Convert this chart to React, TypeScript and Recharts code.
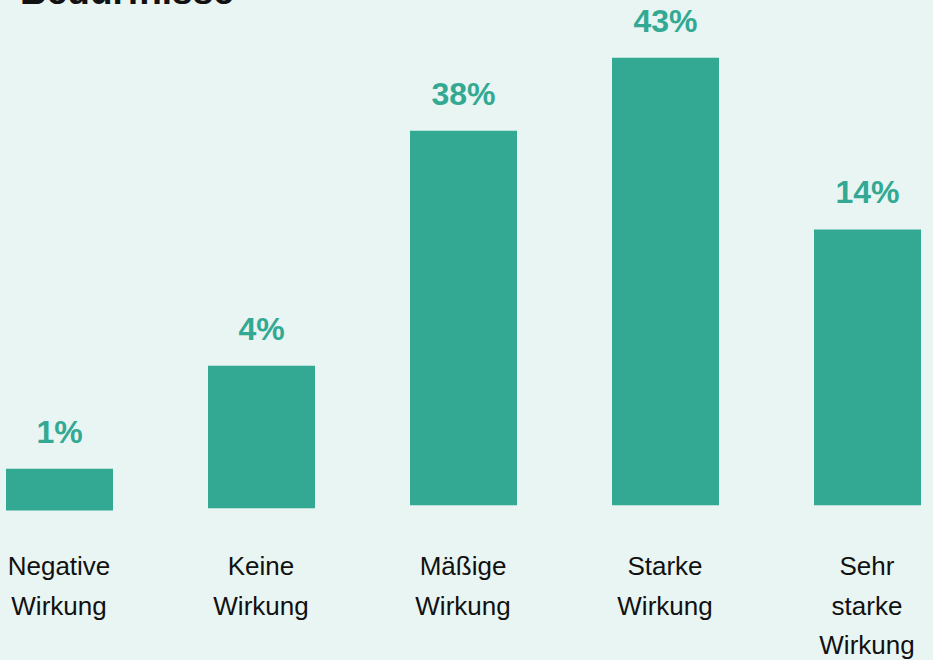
import React from 'react';
import { BarChart, Bar, XAxis, YAxis, LabelList } from 'recharts';

const categories = ['Negative Wirkung', 'Keine Wirkung', 'Mäßige Wirkung', 'Starke Wirkung', 'Sehr starke Wirkung'];
const tickLines = [
  ['Negative', 'Wirkung'],
  ['Keine', 'Wirkung'],
  ['Mäßige', 'Wirkung'],
  ['Starke', 'Wirkung'],
  ['Sehr', 'starke', 'Wirkung'],
];
// percentage labels shown above the bars
const shares = [1, 4, 38, 43, 14];
// drawn bar heights (the infographic is not proportional)
const barTops = [3.5, 13.4, 36.0, 43, 26.5];
const barBases = [-0.5, -0.3, 0, 0, 0];

const title = 'Bedürfnisse';

const BG = '#e9f5f2';
const TEAL = '#33a994';

const data = categories.map((name, i) => ({
  name,
  range: [barBases[i], barTops[i]],
  share: shares[i],
}));

const Tick = (props: any) => {
  const { x, y, payload } = props;
  const idx = categories.indexOf(payload.value);
  const lines = tickLines[idx] || [payload.value];
  return (
    <text x={x} y={y} textAnchor="middle" fill="#111" fontSize={26} fontFamily="'Liberation Sans', Arial, sans-serif">
      {lines.map((l, i) => (
        <tspan key={i} x={x} dy={i === 0 ? 49 : 39.5}>{l}</tspan>
      ))}
    </text>
  );
};

export default function App() {
  return (
    <div style={{ position: 'absolute', left: 0, top: 0, width: 933, height: 660, overflow: 'hidden', background: BG }}>
      <svg width={933} height={60} style={{ position: 'absolute', left: 0, top: 0 }}>
        <text x={20} y={4} fontSize={37} fontWeight="bold" fill="#111" fontFamily="'Liberation Sans', Arial, sans-serif">{title}</text>
      </svg>
      <div style={{ position: 'absolute', left: -42, top: 0 }}>
        <BarChart width={1010} height={660} data={data} margin={{ top: 37, right: 0, bottom: 0, left: 0 }}>
          <XAxis dataKey="name" height={134} axisLine={false} tickLine={false} tickSize={0} tickMargin={0} interval={0} tick={<Tick />} />
          <YAxis hide domain={[-2, 45]} allowDataOverflow />
          <Bar dataKey="range" fill={TEAL} barSize={107} isAnimationActive={false}>
            <LabelList
              dataKey="share"
              position="top"
              offset={26}
              formatter={(v: any) => `${v}%`}
              fill={TEAL}
              fontSize={32}
              fontWeight="bold"
              fontFamily="'Liberation Sans', Arial, sans-serif"
            />
          </Bar>
        </BarChart>
      </div>
    </div>
  );
}
